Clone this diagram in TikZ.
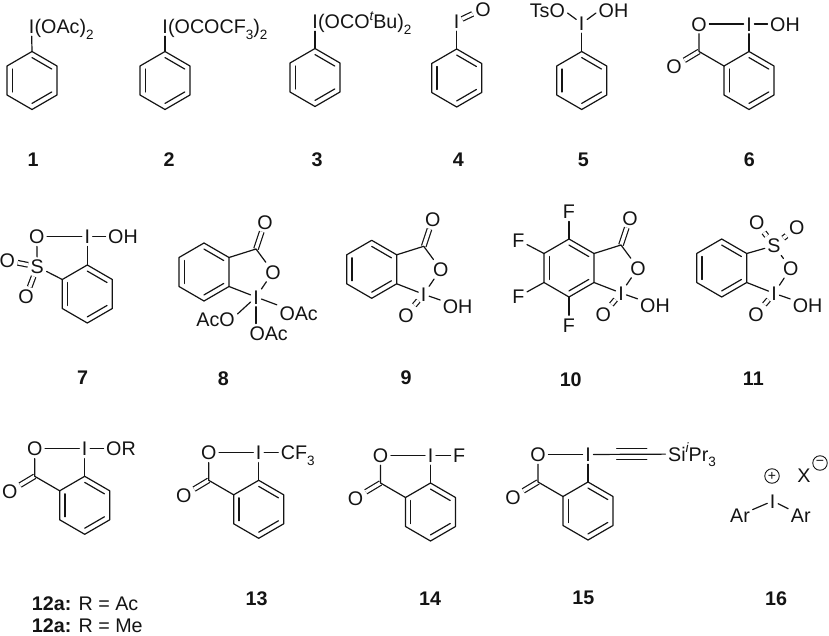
\documentclass[tikz,border=0pt]{standalone}
\usepackage{fontspec}
\setmainfont{Liberation Sans}
\usetikzlibrary{calc}
\definecolor{ink}{rgb}{0.08,0.08,0.08}
\newcommand{\sbs}[1]{\raisebox{-.28em}{\fontsize{13.5}{13.5}\selectfont #1}}
\newcommand{\sps}[1]{\raisebox{.42em}{\fontsize{13.5}{13.5}\selectfont\itshape #1}}
\tikzset{
  atom/.style={font=\fontsize{19.7}{20}\selectfont,text=ink,inner xsep=2.5pt,inner ysep=2.5pt,text height=14.1pt,text depth=0pt},
  lab/.style={font=\fontsize{19.7}{20}\selectfont\bfseries,text=ink,inner sep=0pt},
  txt/.style={font=\fontsize{19.7}{20}\selectfont,text=ink,inner sep=0pt,anchor=west},
  bond/.style={draw=ink,line width=1.2pt,line cap=round,line join=round},
  dbl/.style={draw=ink,line width=1.2pt,line cap=butt,double=white,double distance=3.4pt},
  charge/.style={circle,draw=ink,line width=.9pt,minimum size=14.5pt,inner sep=0pt,text=ink,font=\fontsize{14}{14}\selectfont}
}
% benzene ring: name, centre x, centre y
\newcommand{\benz}[3]{
  \coordinate (#1c)  at (#2,#3);
  \coordinate (#1t)  at (#2,#3-29);
  \coordinate (#1ur) at (#2+25,#3-14.5);
  \coordinate (#1lr) at (#2+25,#3+14.5);
  \coordinate (#1b)  at (#2,#3+29);
  \coordinate (#1ll) at (#2-25,#3+14.5);
  \coordinate (#1ul) at (#2-25,#3-14.5);
  \draw[bond] (#1t)--(#1ur)--(#1lr)--(#1b)--(#1ll)--(#1ul)--cycle;
  \draw[bond] ($(#1c)!.79!(#1t)$)--($(#1c)!.79!(#1ur)$);
  \draw[bond] ($(#1c)!.79!(#1lr)$)--($(#1c)!.79!(#1b)$);
  \draw[bond] ($(#1c)!.79!(#1ll)$)--($(#1c)!.79!(#1ul)$);
}
% benziodoxolone drawn below the iodine: name, centre x, centre y
\newcommand{\lact}[3]{
  \benz{#1}{#2}{#3}
  \node[atom] (#1I) at (#2,#3-56.5) {I};
  \node[atom] (#1O) at (#2-50,#3-56.5) {O};
  \coordinate (#1C) at (#2-50,#3-29);
  \node[atom] (#1X) at (#2-75,#3-14) {O};
  \draw[dbl] (#1C)--(#1X);
  \draw[bond] (#1t)--(#1I);
  \draw[bond] (#1I)--(#1O);
  \draw[bond] (#1O)--(#1C)--(#1ul);
}
% iodoxolone fused on the right: name, centre x, centre y
\newcommand{\lactb}[3]{
  \coordinate (#1C) at (#2+52,#3-23);
  \node[atom] (#1X) at (#2+61,#3-50) {O};
  \node[atom] (#1O) at (#2+69,#3) {O};
  \node[atom] (#1I) at (#2+52,#3+25) {I};
  \draw[dbl] (#1C)--(#1X);
  \draw[bond] (#1ur)--(#1C)--(#1O)--(#1I)--(#1lr);
}
\begin{document}
\begin{tikzpicture}[x=1pt,y=-1pt]
\useasboundingbox (0,0) rectangle (829,636);
\fill[white] (0,0) rectangle (829,636);

% 1
\benz{a}{32}{80.5}
\node[atom] (aI) at (31.5,26.5) {I};
\node[atom,anchor=west,xshift=-5pt] (aG) at (aI.east) {(OAc)\sbs{2}};
\draw[bond] (at)--(aI);
\node[lab] (l1) at (33,160) {1};

% 2
\benz{b}{165}{80.5}
\node[atom] (bI) at (165,26.5) {I};
\node[atom,anchor=west,xshift=-5pt] (bG) at (bI.east) {(OCOCF\sbs{3})\sbs{2}};
\draw[bond] (bt)--(bI);
\node[lab] (l2) at (169,160) {2};

% 3
\benz{c}{315}{77.5}
\node[atom] (cI) at (315,21.5) {I};
\node[atom,anchor=west,xshift=-5pt] (cG) at (cI.east) {(OCO\sps{t}Bu)\sbs{2}};
\draw[bond] (ct)--(cI);
\node[lab] (l3) at (317,160) {3};

% 4
\benz{d}{456.7}{78}
\node[atom] (dI) at (456.7,21.5) {I};
\node[atom] (dO) at (483,9) {O};
\draw[dbl] (dI)--(dO);
\draw[bond] (dt)--(dI);
\node[lab] (l4) at (458.3,160) {4};

% 5
\benz{e}{581.7}{80.5}
\node[atom] (eI) at (581.7,23.5) {I};
\node[atom,anchor=east] (eT) at (567.5,10) {TsO};
\node[atom,anchor=west] (eH) at (596,10) {OH};
\draw[bond] (et)--(eI);
\draw[bond] ([yshift=-3pt]eT.east)--(eI);
\draw[bond] ([yshift=-3pt]eH.west)--(eI);
\node[lab] (l5) at (583.3,160) {5};

% 6
\lact{f}{749}{80.5}
\node[atom,anchor=west] (fH) at (767.5,24) {OH};
\draw[bond] (fI)--(fH);
\node[lab] (l6) at (749.3,160) {6};

% 7
\benz{g}{87.3}{294}
\node[atom] (gI) at (87.3,236.7) {I};
\node[atom] (gO) at (36.7,236.7) {O};
\node[atom] (gS) at (37.3,266.7) {S};
\node[atom] (gA) at (7.3,260.7) {O};
\node[atom] (gB) at (26,296.7) {O};
\node[atom,anchor=west] (gH) at (105.5,236.7) {OH};
\draw[dbl] (gS)--(gA);
\draw[dbl] (gS)--(gB);
\draw[bond] (gt)--(gI);
\draw[bond] (gI)--(gO);
\draw[bond] (gI)--(gH);
\draw[bond] (gO)--(gS);
\draw[bond] (gS)--(gul);
\node[lab] (l7) at (82.7,377.3) {7};

% 8
\benz{h}{204}{272}
\lactb{h}{204}{272}
\node[atom,anchor=west] (hR) at (276.8,313) {OAc};
\node[atom,anchor=east] (hL) at (237.5,319) {AcO};
\node[atom,anchor=west] (hD) at (246.8,333.3) {OAc};
\draw[bond] (hI)--(hR);
\draw[bond] (hI)--([yshift=5pt]hL.east);
\draw[bond] (hI)--(hI |- hD.north);
\node[lab] (l8) at (223.3,378.7) {8};

% 9
\benz{i}{371.7}{269.3}
\lactb{i}{371.7}{269.3}
\node[atom] (iY) at (406,315) {O};
\node[atom,anchor=west] (iH) at (440.2,306) {OH};
\draw[dbl] (iI)--(iY);
\draw[bond] (iI)--(iH);
\node[lab] (l9) at (406,377.7) {9};

% 10
\benz{j}{569}{268}
\lactb{j}{569}{268}
\node[atom] (jY) at (603.3,314.3) {O};
\node[atom,anchor=west] (jH) at (637.5,305) {OH};
\node[atom] (jF) at (569,211.7) {F};
\node[atom] (jG) at (518.3,240) {F};
\node[atom] (jK) at (518.3,296.7) {F};
\node[atom] (jM) at (569,325) {F};
\draw[dbl] (jI)--(jY);
\draw[bond] (jI)--(jH);
\draw[bond] (jt)--(jF);
\draw[bond] (jul)--(jG);
\draw[bond] (jll)--(jK);
\draw[bond] (jb)--(jM);
\node[lab] (l10) at (570.7,379.3) {10};

% 11
\benz{k}{721.7}{268}
\node[atom] (kS) at (774,245.7) {S};
\node[atom] (kA) at (756.7,222.7) {O};
\node[atom] (kB) at (796.7,227.3) {O};
\node[atom] (kO) at (790.7,268.3) {O};
\node[atom] (kI) at (774,293.3) {I};
\node[atom] (kY) at (756,314.3) {O};
\node[atom,anchor=west] (kH) at (790.2,305) {OH};
\draw[dbl] (kS)--(kA);
\draw[dbl] (kS)--(kB);
\draw[dbl] (kI)--(kY);
\draw[bond] (kur)--(kS);
\draw[bond] (kS)--(kO);
\draw[bond] (kO)--(kI);
\draw[bond] (kI)--(klr);
\draw[bond] (kI)--(kH);
\node[lab] (l11) at (753.3,378.7) {11};

% 12a
\lact{m}{84.7}{505.3}
\node[atom,anchor=west] (mR) at (103.5,448.8) {OR};
\draw[bond] (mI)--(mR);
\node[txt] (l12) at (31.7,603.5) {\textbf{12a:} R = Ac};
\node[txt] (l12b) at (31.7,626) {\textbf{12a:} R = Me};

% 13
\lact{n}{258.7}{509.3}
\node[atom,anchor=west] (nR) at (278.2,452.8) {CF\sbs{3}};
\draw[bond] (nI)--(nR);
\node[lab] (l13) at (256.7,598.3) {13};

% 14
\lact{p}{430.5}{512}
\node[atom,anchor=west] (pF) at (450.5,455.5) {F};
\draw[bond] (pI)--(pF);
\node[lab] (l14) at (430,598.3) {14};

% 15
\lact{q}{588}{511}
\node[atom,anchor=west] (qS) at (665.5,454) {Si\sps{i}Pr\sbs{3}};
\coordinate (q1) at (616.7,448.7);
\coordinate (q2) at (646.7,448.7);
\coordinate (q3) at (616.7,459.3);
\coordinate (q4) at (646.7,459.3);
\draw[bond] (qI)--(qS);
\draw[bond] (q1)--(q2);
\draw[bond] (q3)--(q4);
\node[lab] (l15) at (583.3,598.3) {15};

% 16
\node[atom] (rI) at (772.7,501) {I};
\node[atom] (rL) at (740,515) {Ar};
\node[atom] (rR) at (800.7,515) {Ar};
\node[atom] (rX) at (804,475) {X};
\node[charge] (rP) at (772,476) {+};
\node[charge] (rM) at (820,463) {−};
\draw[bond] (rI)--(rL);
\draw[bond] (rI)--(rR);
\node[lab] (l16) at (776,598.3) {16};
\end{tikzpicture}
\end{document}
